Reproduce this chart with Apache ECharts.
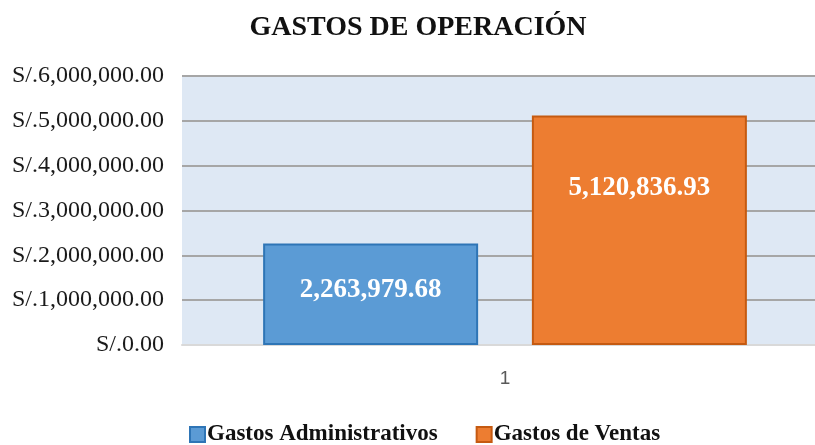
<!DOCTYPE html>
<html>
<head>
<meta charset="utf-8">
<script src="https://cdn.jsdelivr.net/npm/echarts@6/dist/echarts.min.js"></script>
<style>
  html, body { margin: 0; padding: 0; background: #fff; }
  #chart { width: 815px; height: 445px; }
</style>
</head>
<body>
<div id="chart"></div>
<script>
const categories = ['1']
const seriesNames = ['Gastos Administrativos', 'Gastos de Ventas']
const adminValues = [2263979.68]
const ventasValues = [5120836.93]

const fmtMoney = (v) => Number(v).toLocaleString('en-US', { minimumFractionDigits: 2, maximumFractionDigits: 2 })

const chart = echarts.init(document.getElementById('chart'))

const option = {
  animation: false,
  title: {
    text: 'GASTOS DE OPERACIÓN',
    left: 413,
    textAlign: 'center',
    top: 9,
    textStyle: {
      fontFamily: 'Liberation Serif',
      fontWeight: 'bold',
      fontSize: 28,
      color: '#111'
    }
  },
  legend: {
    data: seriesNames,
    top: 418,
    left: 184,
    itemWidth: 15,
    itemHeight: 15,
    itemGap: 38,
    icon: 'rect',
    textStyle: {
      fontFamily: 'Liberation Serif',
      fontWeight: 'bold',
      fontSize: 23,
      color: '#111',
      padding: [0, 0, 0, -3]
    }
  },
  grid: {
    left: 182,
    right: -13,
    top: 76,
    height: 269,
    outerBoundsMode: 'none',
    show: true,
    backgroundColor: '#dee8f4',
    borderWidth: 0
  },
  xAxis: {
    type: 'category',
    data: categories,
    axisLine: { show: true, lineStyle: { color: '#d9d9d9', width: 2 } },
    axisTick: { show: false },
    axisLabel: {
      margin: 24,
      fontFamily: 'Liberation Sans',
      fontSize: 19,
      color: '#595959'
    }
  },
  yAxis: {
    type: 'value',
    min: 0,
    max: 6000000,
    interval: 1000000,
    axisLine: { show: false },
    axisTick: { show: false },
    splitLine: { lineStyle: { color: '#a6a6a6', width: 2 } },
    axisLabel: {
      margin: 18,
      fontFamily: 'Liberation Serif',
      fontSize: 24,
      color: '#1a1a1a',
      formatter: (v) => 'S/.' + fmtMoney(v)
    }
  },
  series: [
    {
      name: seriesNames[0],
      type: 'bar',
      barWidth: 215,
      barGap: '25%',
      data: adminValues,
      itemStyle: { color: '#5b9bd5', borderColor: '#2e75b6', borderWidth: 2 },
      label: {
        show: true,
        position: 'inside',
        offset: [0, -4],
        formatter: (p) => fmtMoney(p.value),
        fontFamily: 'Liberation Serif',
        fontWeight: 'bold',
        fontSize: 27,
        color: '#fff'
      }
    },
    {
      name: seriesNames[1],
      type: 'bar',
      barWidth: 215,
      data: ventasValues,
      itemStyle: { color: '#ed7d31', borderColor: '#c55a11', borderWidth: 2 },
      label: {
        show: true,
        position: 'inside',
        offset: [0, -42],
        formatter: (p) => fmtMoney(p.value),
        fontFamily: 'Liberation Serif',
        fontWeight: 'bold',
        fontSize: 27,
        color: '#fff'
      }
    }
  ]
}

chart.setOption(option)
window.addEventListener('resize', () => chart.resize())
</script>
</body>
</html>
